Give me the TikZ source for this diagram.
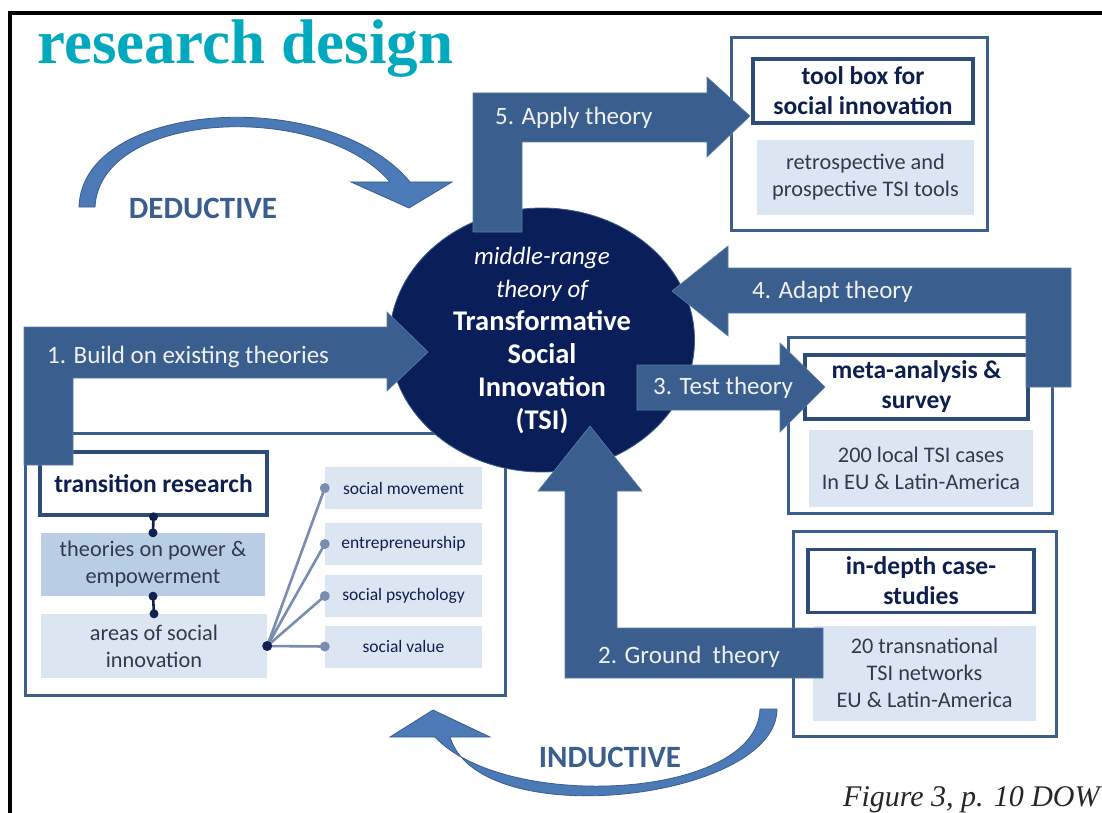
\documentclass[tikz,border=0pt]{standalone}
\usepackage{fontspec}
\setmainfont{Carlito}
\newfontfamily\headfont{Liberation Serif}
\usetikzlibrary{shapes.geometric}

\definecolor{arrowblue}{RGB}{58,94,142}
\definecolor{arrowedge}{RGB}{92,124,168}
\definecolor{navy}{RGB}{10,31,90}
\definecolor{boxline}{RGB}{61,95,142}
\definecolor{titleline}{RGB}{46,76,122}
\definecolor{inkblue}{RGB}{15,31,77}
\definecolor{greytext}{RGB}{52,56,76}
\definecolor{lightfill}{RGB}{220,230,242}
\definecolor{midfill}{RGB}{185,205,229}
\definecolor{headteal}{RGB}{0,169,189}
\definecolor{curveblue}{RGB}{76,122,182}
\definecolor{dotgrey}{RGB}{122,140,176}
\definecolor{knobnavy}{RGB}{16,32,82}

\newcommand{\tsiline}{\fontsize{28.5}{33}\selectfont\bfseries}

\tikzset{
  blockarrow/.style={fill=arrowblue, draw=arrowedge, line width=0.6pt},
  curvearrow/.style={fill=curveblue, draw=arrowblue, line width=0.8pt},
  arrowtext/.style={anchor=west, inner sep=0pt, text=white!94!black,
    font=\fontsize{25}{28}\selectfont},
  modetext/.style={inner sep=0pt, text=arrowblue, font=\bfseries\fontsize{31}{34}\selectfont},
  outerbox/.style={draw=boxline, line width=3pt, fill=white, inner sep=0pt},
  titlebox/.style={draw=titleline, line width=3.5pt, fill=white, align=center,
    inner sep=0pt, text=inkblue, font=\bfseries\fontsize{25.5}{30}\selectfont},
  infobox/.style={fill=lightfill, align=center, inner sep=0pt, text=greytext,
    font=\fontsize{22.3}{27}\selectfont},
  areabox/.style={fill=lightfill, inner sep=0pt, text=inkblue,
    font=\fontsize{17.5}{20}\selectfont, minimum width=157pt, minimum height=42pt},
  hubline/.style={draw=dotgrey, line width=2.6pt},
  knobline/.style={draw=knobnavy, line width=2.6pt}
}

\begin{document}
\begin{tikzpicture}[x=1pt,y=-1pt]
\useasboundingbox (0,0) rectangle (1102,813);
\fill[white] (0,0) rectangle (1102,813);
\clip (0,0) rectangle (1102,813);

% Frame and heading
\draw[line width=4pt] (9.5,813) -- (9.5,13) -- (1102,13);
\node[anchor=base west, inner sep=0pt, text=headteal,
  font=\headfont\bfseries\fontsize{63}{65}\selectfont] (heading) at (37,64) {research design};

% Deductive / inductive curved arrows
\draw[curvearrow] (79,207) .. controls (82,100) and (330,85) .. (410,182)
  -- (452,182) -- (409,208) -- (351,182) -- (390,182)
  .. controls (320,100) and (100,110) .. (95,207) -- cycle;
\node[modetext] (deductive) at (203,208) {DEDUCTIVE};

\draw[curvearrow] (777,709) .. controls (777,800) and (480,835) .. (450,737)
  -- (490,737) -- (433,710) -- (390,737) -- (435,737)
  .. controls (505,812) and (757,800) .. (760,709) -- cycle;
\node[modetext] (inductive) at (610,757) {INDUCTIVE};

% Outer boxes
\node[outerbox, minimum width=256pt, minimum height=192pt] (toolouter) at (859,134) {};
\node[outerbox, minimum width=480pt, minimum height=262pt] (transouter) at (265,564) {};
\node[outerbox, minimum width=264pt, minimum height=176pt] (metaouter) at (920,425) {};
\node[outerbox, minimum width=263pt, minimum height=205pt] (caseouter) at (924.5,633.5) {};

% Tool box
\node[titlebox, minimum width=220pt, minimum height=64pt] (tooltitle) at (863,91)
  {tool box for\\social innovation};
\node[infobox, minimum width=217pt, minimum height=74pt] (toolinfo) at (865.5,177.5)
  {retrospective and\\prospective TSI tools};

% Meta-analysis
\node[titlebox, minimum width=223pt, minimum height=64pt] (metatitle) at (916.5,387)
  {meta-analysis \&\\survey};
\node[infobox, minimum width=224pt, minimum height=77pt] (metainfo) at (921,468.5)
  {200 local TSI cases\\In EU \& Latin-America};

% Case studies
\node[titlebox, minimum width=226pt, minimum height=63pt] (casetitle) at (921,581)
  {in-depth case-\\studies};
\node[infobox, minimum width=223pt, minimum height=95pt] (caseinfo) at (924.5,673)
  {20 transnational\\TSI networks\\EU \& Latin-America};

% Transition research
\node[titlebox, minimum width=227pt, minimum height=63pt] (transtitle) at (153.5,483.5)
  {transition research};
\node[infobox, fill=midfill, minimum width=224pt, minimum height=63pt] (power) at (153,564.5)
  {theories on power \&\\empowerment};
\node[infobox, minimum width=226pt, minimum height=64pt] (areas) at (154,646)
  {areas of social\\innovation};

\node[areabox] (movement) at (403.5,488) {social movement};
\node[areabox] (entre) at (403.5,544) {entrepreneurship};
\node[areabox] (psych) at (403.5,596) {social psychology};
\node[areabox] (value) at (403.5,646.5) {social value};

\draw[knobline] (transtitle.south) -- (power.north);
\draw[knobline] (power.south) -- (areas.north);
\foreach \k in {transtitle.south, power.north, power.south, areas.north}
  \fill[knobnavy] (\k) circle (4.5pt);

\foreach \a in {movement, entre, psych, value} {
  \draw[hubline] (areas.east) -- (\a.west);
  \fill[dotgrey] (\a.west) circle (5pt);
}
\fill[knobnavy] (areas.east) circle (5pt);

% Central theory
\node[ellipse, fill=navy, draw=arrowblue, line width=0.8pt, inner sep=0pt,
  minimum width=305pt, minimum height=230pt, align=center, text=white,
  font=\fontsize{25}{33}\selectfont] (tsi) at (542,340)
  {\itshape middle-range\\\itshape theory of\\\tsiline Transformative\\\tsiline Social\\\tsiline Innovation\\\tsiline (TSI)};

% Block arrows
\fill[blockarrow] (24,465) -- (24,327) -- (387,327) -- (387,312) -- (428,352)
  -- (387,391) -- (387,378) -- (73,378) -- (73,465) -- cycle;
\fill[blockarrow] (473,232) -- (473,93) -- (707,93) -- (707,77) -- (750,116)
  -- (707,157) -- (707,142) -- (522,142) -- (522,232) -- cycle;
\fill[blockarrow] (1071,387) -- (1071,268) -- (728,268) -- (728,246) -- (672,291)
  -- (728,336) -- (728,313) -- (1026,313) -- (1026,387) -- cycle;
\fill[blockarrow] (637,365) -- (780,365) -- (780,343) -- (825,387)
  -- (780,432) -- (780,410) -- (637,410) -- cycle;
\fill[blockarrow] (823,628) -- (617,628) -- (617,491) -- (642,491) -- (590,426)
  -- (538,491) -- (565,491) -- (565,678) -- (823,678) -- cycle;

\node[arrowtext] (build) at (47,357) {1. Build on existing theories};
\node[arrowtext] (ground) at (598,657) {2. Ground~ theory};
\node[arrowtext] (test) at (653,388) {3. Test theory};
\node[arrowtext] (adapt) at (752,292) {4. Adapt theory};
\node[arrowtext] (apply) at (495,118) {5. Apply theory};

% Caption
\node[anchor=base west, inner sep=0pt, text=black!85,
  font=\headfont\itshape\fontsize{30}{32}\selectfont] (caption) at (843,806)
  {Figure 3, p. 10 DOW};
\end{tikzpicture}
\end{document}
